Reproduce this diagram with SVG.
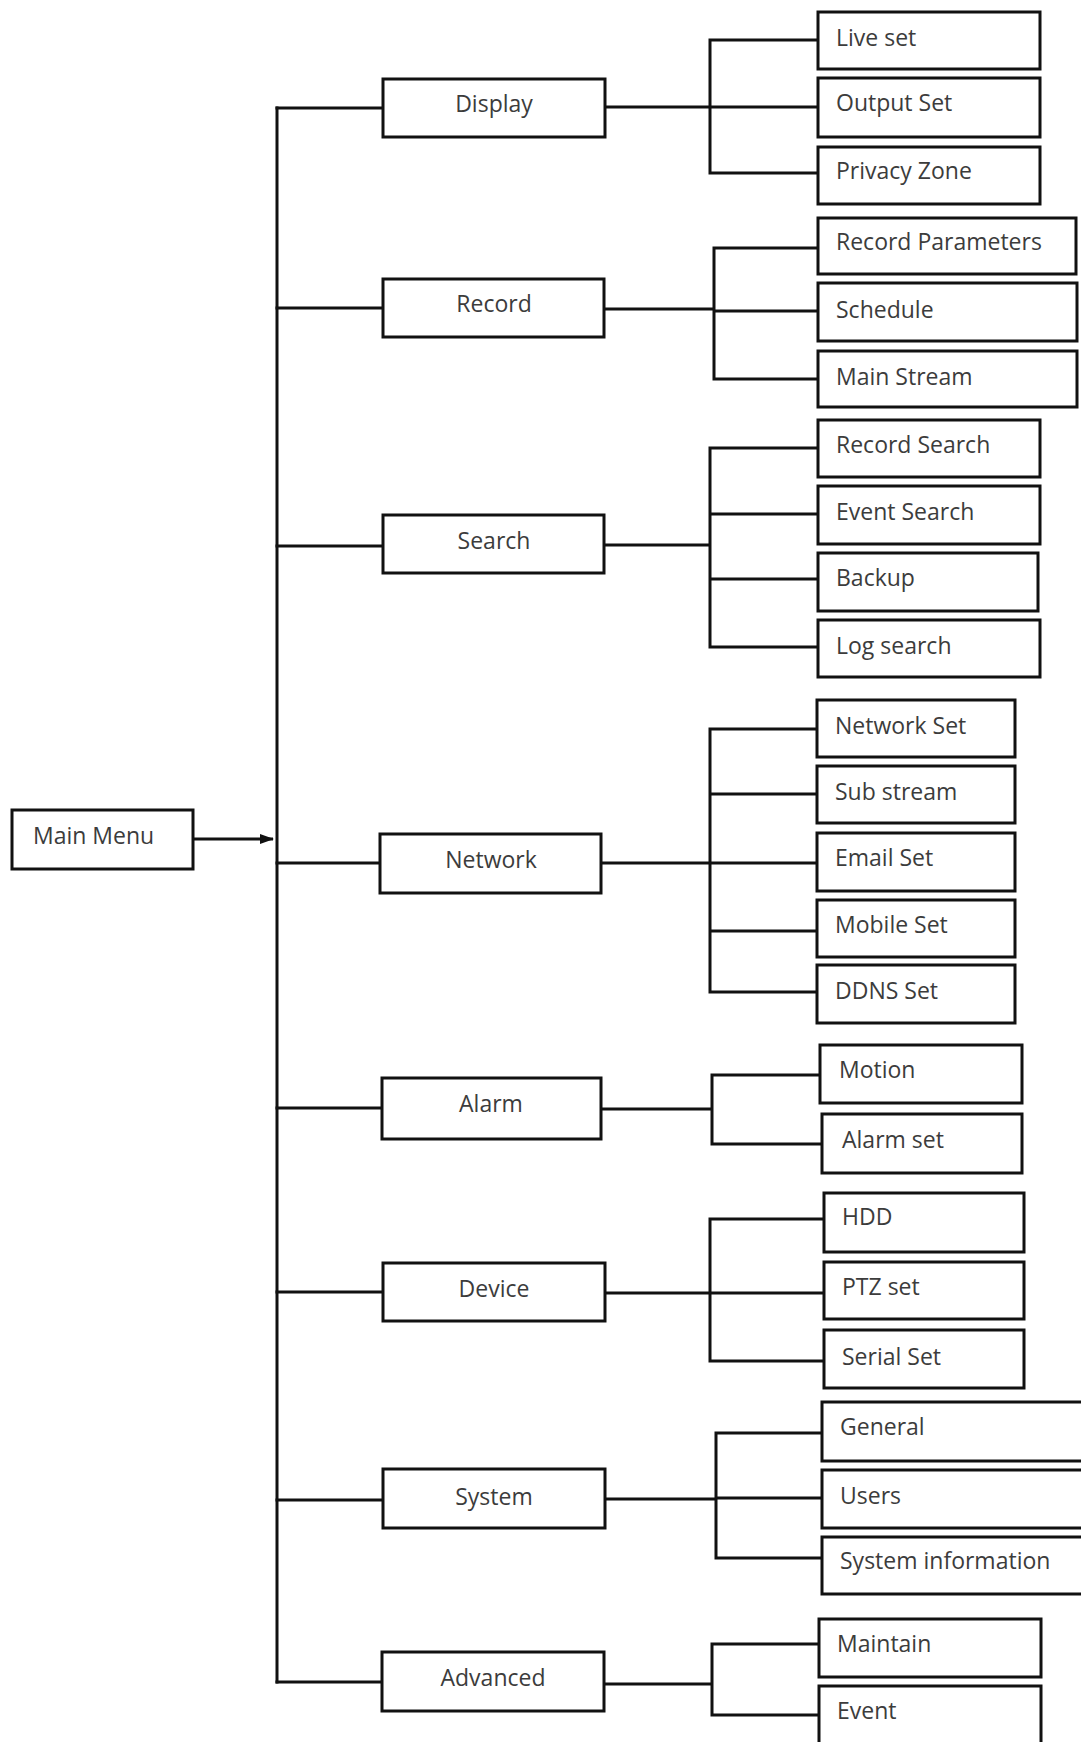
<svg xmlns="http://www.w3.org/2000/svg" width="1081" height="1742" viewBox="0 0 1081 1742">
<defs>
<style>
.box{fill:#fff;stroke:#111;stroke-width:3}
.ln{fill:none;stroke:#111;stroke-width:3;stroke-linecap:square}
.t{font-family:"Open Sans","Liberation Sans",sans-serif;font-size:23px;fill:#3c3c3c}
.c{text-anchor:middle}
</style>
<marker id="arr" markerWidth="14" markerHeight="12" refX="13" refY="6" orient="auto" markerUnits="userSpaceOnUse">
<path d="M0,1 L14,6 L0,11 Z" fill="#111"/>
</marker>
</defs>
<rect width="1081" height="1742" fill="#fff"/>
<g id="connectors">
<line class="ln" x1="194" y1="839" x2="273" y2="839" marker-end="url(#arr)" style="stroke-linecap:butt"/>
<path class="ln" d="M277,108 V1682"/>
<path class="ln" d="M277,108 H383 M277,308 H383 M277,546 H383 M277,863 H380 M277,1108 H382 M277,1292 H383 M277,1500 H383 M277,1682 H382"/>
<path class="ln" d="M605,107 H710 M710,40 V173 M710,40 H818 M710,107 H818 M710,173 H818"/>
<path class="ln" d="M604,309 H714 M714,248 V379 M714,248 H818 M714,311 H818 M714,379 H818"/>
<path class="ln" d="M604,545 H710 M710,448 V647 M710,448 H818 M710,514 H818 M710,579 H818 M710,647 H818"/>
<path class="ln" d="M601,863 H710 M710,729 V992 M710,729 H817 M710,794 H817 M710,863 H817 M710,931 H817 M710,992 H817"/>
<path class="ln" d="M601,1109 H712 M712,1075 V1144 M712,1075 H820 M712,1144 H822"/>
<path class="ln" d="M605,1293 H710 M710,1219 V1361 M710,1219 H824 M710,1293 H824 M710,1361 H824"/>
<path class="ln" d="M605,1499 H716 M716,1433 V1558 M716,1433 H822 M716,1498 H822 M716,1558 H822"/>
<path class="ln" d="M604,1684 H712 M712,1644 V1715 M712,1644 H819 M712,1715 H819"/>
</g>
<g id="main-menu"><rect class="box" x="12" y="810" width="181" height="59"/><text class="t" x="33" y="844">Main Menu</text></g>
<g id="display"><rect class="box" x="383" y="79" width="222" height="58"/><text class="t c" x="494" y="112">Display</text></g>
<g id="record"><rect class="box" x="383" y="279" width="221" height="58"/><text class="t c" x="494" y="312">Record</text></g>
<g id="search"><rect class="box" x="383" y="515" width="221" height="58"/><text class="t c" x="494" y="549">Search</text></g>
<g id="network"><rect class="box" x="380" y="834" width="221" height="59"/><text class="t c" x="491" y="868">Network</text></g>
<g id="alarm"><rect class="box" x="382" y="1078" width="219" height="61"/><text class="t c" x="491" y="1112">Alarm</text></g>
<g id="device"><rect class="box" x="383" y="1263" width="222" height="58"/><text class="t c" x="494" y="1297">Device</text></g>
<g id="system"><rect class="box" x="383" y="1469" width="222" height="59"/><text class="t c" x="494" y="1505">System</text></g>
<g id="advanced"><rect class="box" x="382" y="1652" width="222" height="59"/><text class="t c" x="493" y="1686">Advanced</text></g>
<g id="live-set"><rect class="box" x="818" y="12" width="222" height="57"/><text class="t" x="836" y="46">Live set</text></g>
<g id="output-set"><rect class="box" x="818" y="78" width="222" height="59"/><text class="t" x="836" y="111">Output Set</text></g>
<g id="privacy-zone"><rect class="box" x="818" y="147" width="222" height="57"/><text class="t" x="836" y="179">Privacy Zone</text></g>
<g id="record-parameters"><rect class="box" x="818" y="218" width="258" height="56"/><text class="t" x="836" y="250">Record Parameters</text></g>
<g id="schedule"><rect class="box" x="818" y="283" width="259" height="58"/><text class="t" x="836" y="318">Schedule</text></g>
<g id="main-stream"><rect class="box" x="818" y="351" width="259" height="56"/><text class="t" x="836" y="385">Main Stream</text></g>
<g id="record-search"><rect class="box" x="818" y="420" width="222" height="57"/><text class="t" x="836" y="453">Record Search</text></g>
<g id="event-search"><rect class="box" x="818" y="486" width="222" height="58"/><text class="t" x="836" y="520">Event Search</text></g>
<g id="backup"><rect class="box" x="818" y="553" width="220" height="58"/><text class="t" x="836" y="586">Backup</text></g>
<g id="log-search"><rect class="box" x="818" y="620" width="222" height="57"/><text class="t" x="836" y="654">Log search</text></g>
<g id="network-set"><rect class="box" x="817" y="700" width="198" height="57"/><text class="t" x="835" y="734">Network Set</text></g>
<g id="sub-stream"><rect class="box" x="817" y="766" width="198" height="57"/><text class="t" x="835" y="800">Sub stream</text></g>
<g id="email-set"><rect class="box" x="817" y="833" width="198" height="58"/><text class="t" x="835" y="866">Email Set</text></g>
<g id="mobile-set"><rect class="box" x="817" y="900" width="198" height="57"/><text class="t" x="835" y="933">Mobile Set</text></g>
<g id="ddns-set"><rect class="box" x="817" y="965" width="198" height="58"/><text class="t" x="835" y="999">DDNS Set</text></g>
<g id="motion"><rect class="box" x="820" y="1045" width="202" height="58"/><text class="t" x="839" y="1078">Motion</text></g>
<g id="alarm-set"><rect class="box" x="822" y="1114" width="200" height="59"/><text class="t" x="842" y="1148">Alarm set</text></g>
<g id="hdd"><rect class="box" x="824" y="1193" width="200" height="59"/><text class="t" x="842" y="1225">HDD</text></g>
<g id="ptz-set"><rect class="box" x="824" y="1262" width="200" height="57"/><text class="t" x="842" y="1295">PTZ set</text></g>
<g id="serial-set"><rect class="box" x="824" y="1330" width="200" height="58"/><text class="t" x="842" y="1365">Serial Set</text></g>
<g id="general"><rect class="box" x="822" y="1402" width="270" height="59"/><text class="t" x="840" y="1435">General</text></g>
<g id="users"><rect class="box" x="822" y="1470" width="270" height="58"/><text class="t" x="840" y="1504">Users</text></g>
<g id="system-information"><rect class="box" x="822" y="1537" width="270" height="57"/><text class="t" x="840" y="1569">System information</text></g>
<g id="maintain"><rect class="box" x="819" y="1619" width="222" height="58"/><text class="t" x="837" y="1652">Maintain</text></g>
<g id="event"><rect class="box" x="819" y="1686" width="222" height="62"/><text class="t" x="837" y="1719">Event</text></g>
</svg>
